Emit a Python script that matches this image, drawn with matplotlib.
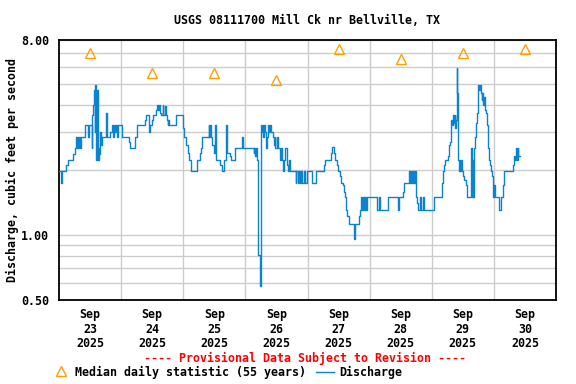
import matplotlib
matplotlib.use("Agg")
import matplotlib.pyplot as plt
from matplotlib.lines import Line2D

# ---------------- data ----------------
title = "USGS 08111700 Mill Ck nr Bellville, TX"
ylabel = "Discharge, cubic feet per second"
day_labels = ["Sep\n23\n2025", "Sep\n24\n2025", "Sep\n25\n2025", "Sep\n26\n2025",
              "Sep\n27\n2025", "Sep\n28\n2025", "Sep\n29\n2025", "Sep\n30\n2025"]
median_values = [6.95, 5.6, 5.6, 5.2, 7.3, 6.5, 7.0, 7.3]

# discharge: hours since Sep 23 00:00, value (cfs), stepwise
hours = [0.0, 0.7, 1.3, 2.7, 3.4, 5.5, 6.2, 6.6, 6.9, 7.2, 7.5, 7.8, 8.1, 8.5,
         10.2, 11.1, 11.7, 12.6, 12.9, 13.2, 13.5, 13.8, 14.1, 14.4, 14.7, 15.0,
         15.3, 15.6, 15.9, 16.2, 16.5, 18.1, 18.4, 19.7, 20.4, 20.9, 21.2, 21.6,
         22.0, 22.5, 22.8, 24.3, 26.9, 27.3, 29.4, 30.3, 33.3, 33.7, 34.6, 34.9,
         35.2, 36.0, 36.5, 37.5, 37.9, 38.4, 38.7, 39.0, 39.4, 40.0, 40.3, 41.0,
         41.3, 41.7, 42.0, 42.3, 42.6, 45.3, 47.9, 48.4, 49.0, 49.7, 50.3, 51.0,
         53.3, 54.6, 55.0, 55.2, 57.8, 58.1, 58.4, 58.7, 59.1, 59.7, 60.4, 60.8,
         62.3, 63.0, 63.9, 64.6, 64.9, 65.9, 66.5, 68.1, 70.6, 70.9, 75.2, 75.5,
         75.8, 76.1, 76.4, 76.7, 77.0, 77.5, 78.0, 78.4, 78.7, 79.0, 79.3, 79.7,
         80.0, 80.3, 80.6, 81.2, 81.5, 82.0, 82.6, 83.0, 83.3, 83.6, 84.2, 84.6,
         85.4, 85.8, 86.2, 86.6, 86.9, 87.5, 87.9, 88.2, 88.6, 88.9, 89.4, 91.4,
         91.7, 92.2, 92.6, 93.1, 93.5, 94.0, 94.5, 95.0, 95.9, 97.8, 99.1, 102.3,
         102.6, 104.9, 105.6, 106.1, 106.8, 107.4, 107.7, 108.6, 109.0, 109.7,
         110.1, 110.5, 110.9, 111.4, 112.0, 114.0, 114.3, 115.9, 116.4, 116.8,
         117.1, 117.5, 117.9, 118.3, 118.7, 119.1, 123.0, 123.6, 124.2, 127.1,
         131.0, 131.5, 132.8, 133.4, 135.2, 135.6, 136.0, 136.4, 136.8, 137.2,
         137.5, 137.8, 138.3, 138.7, 139.6, 139.9, 140.6, 140.9, 144.9, 148.1,
         148.3, 148.6, 149.0, 150.3, 150.8, 151.2, 151.6, 151.9, 152.2, 152.5,
         152.8, 153.1, 153.4, 153.6, 153.8, 154.0, 154.2, 154.5, 154.8, 155.1,
         155.4, 155.7, 156.0, 156.6, 157.2, 157.5, 159.1, 159.4, 159.8, 160.1,
         160.4, 160.7, 161.0, 161.3, 161.7, 162.0, 162.3, 162.6, 163.0, 163.3,
         163.6, 163.9, 164.2, 164.5, 164.9, 165.3, 165.6, 165.9, 166.2, 166.5,
         166.8, 167.1, 167.5, 167.8, 168.1, 168.4, 170.1, 170.7, 171.4, 172.0,
         175.2, 175.6, 175.9, 176.2, 176.5, 176.9, 177.2, 177.5, 178.2]
cfs = [1.97, 1.74, 1.97, 2.11, 2.22, 2.37, 2.52, 2.85, 2.52, 2.85, 2.52, 2.85, 2.52, 2.85,
       3.23, 2.85, 3.23, 2.52, 3.60, 4.00, 4.69, 3.00, 4.95, 2.22, 4.69, 2.22,
       2.52, 2.37, 3.00, 2.61, 2.85, 3.67, 2.85, 3.00, 3.23, 2.85, 3.23, 3.00,
       3.23, 2.85, 3.23, 2.85, 2.70, 2.52, 2.85, 3.23, 3.41, 3.60, 3.13, 3.00,
       3.23, 3.41, 3.60, 3.79, 4.00, 3.79, 4.00, 3.67, 3.60, 4.00, 3.60, 3.96,
       3.60, 3.41, 3.23, 3.41, 3.23, 3.60, 3.13, 2.85, 2.61, 2.39, 2.22, 1.97,
       2.22, 2.39, 2.52, 2.85, 3.23, 2.85, 3.23, 2.85, 2.61, 2.39, 3.23, 2.22,
       2.11, 1.97, 2.22, 3.23, 2.39, 2.32, 2.22, 2.52, 2.85, 2.52, 2.39, 2.52,
       2.32, 2.52, 2.22, 1.74, 0.81, 0.58, 3.23, 3.00, 3.23, 2.85, 3.23, 3.00,
       2.52, 2.85, 3.23, 3.00, 3.23, 3.00, 2.85, 2.61, 2.85, 2.52, 2.85, 2.52,
       2.22, 2.52, 2.22, 1.97, 2.22, 2.52, 2.22, 2.11, 1.97, 2.22, 1.97, 1.74,
       1.97, 1.74, 1.97, 1.74, 1.97, 1.74, 1.97, 1.74, 1.97, 1.74, 1.97, 2.11,
       2.22, 2.39, 2.55, 2.39, 2.22, 2.11, 1.97, 1.88, 1.74, 1.70,
       1.59, 1.50, 1.31, 1.22, 1.12, 0.96, 1.12, 1.22, 1.31, 1.50,
       1.31, 1.50, 1.31, 1.50, 1.31, 1.50, 1.31, 1.50, 1.31, 1.50,
       1.31, 1.50, 1.59, 1.74, 1.97, 1.74, 1.97, 1.74, 1.97, 1.74,
       1.97, 1.50, 1.41, 1.31, 1.50, 1.31, 1.50, 1.31, 1.50, 1.74,
       1.97, 2.11, 2.22, 2.32, 2.61, 2.70, 3.41, 3.23, 3.60, 3.30,
       3.60, 3.13, 3.41, 5.92, 4.55, 3.50, 2.22, 1.97, 2.22, 1.97,
       2.22, 1.97, 1.88, 1.80, 1.70, 1.50, 2.52, 1.50, 2.22, 1.50,
       2.52, 2.85, 3.30, 3.67, 4.22, 4.95, 4.69, 4.95, 4.55, 4.22,
       4.55, 4.00, 4.36, 3.79, 3.67, 3.23, 3.00, 2.52, 2.22, 2.11,
       1.97, 1.88, 1.74, 1.50, 1.70, 1.50, 1.31, 1.50, 1.70, 1.97,
       2.11, 2.22, 2.32, 2.22, 2.52, 2.22, 2.52, 2.32, 2.32]

# ---------------- figure ----------------
W, H = 576, 384
FONT = "DejaVu Sans Mono"
FS = 8.4
LINE_C = "#0a84d0"
fig = plt.figure(figsize=(W / 100, H / 100), dpi=100)
fig.patch.set_facecolor("white")
L, R, T, B = 59, 556, 40, 300
ax = fig.add_axes([L / W, 1 - B / H, (R - L) / W, (B - T) / H])

ax.plot(hours, cfs, drawstyle="steps-post", color=LINE_C, lw=1.0, zorder=3)
median_hours = [24 * i + 12 for i in range(len(median_values))]
ax.plot(median_hours, median_values, linestyle="none", marker="^", markersize=7,
        markerfacecolor="none", markeredgecolor="#ffa000", markeredgewidth=1.0,
        zorder=4, clip_on=False)

ax.set_yscale("log")
ax.set_ylim(0.5, 8.0)
ax.set_xlim(0, 24 * len(day_labels))

ax.set_yticks([0.5, 1.0, 8.0])
ax.set_yticklabels(["0.50", "1.00", "8.00"])
ax.set_yticks([0.6, 0.7, 0.8, 0.9, 2, 3, 4, 5, 6, 7], minor=True)
ax.yaxis.set_minor_formatter(matplotlib.ticker.NullFormatter())

ax.set_xticks([24 * i + 12 for i in range(len(day_labels))])
ax.set_xticklabels(day_labels, linespacing=1.12)
ax.set_xticks([24 * i for i in range(1, len(day_labels))], minor=True)

ax.grid(True, which="both", color="#cccccc", lw=1.0, zorder=0)
ax.xaxis.grid(False, which="major")
ax.set_axisbelow(True)
ax.tick_params(which="both", length=0)
ax.tick_params(axis="y", pad=7)
ax.tick_params(axis="x", pad=6)
for lab in ax.get_xticklabels() + ax.get_yticklabels():
    lab.set_fontfamily(FONT)
    lab.set_fontweight("bold")
    lab.set_fontsize(FS)
for s in ax.spines.values():
    s.set_color("black")
    s.set_linewidth(1.3)

def fx(px):
    return px / W

def fy(py):
    return 1 - py / H

fig.text(fx(307.5), fy(20), title, ha="center", va="center",
         family=FONT, weight="bold", fontsize=FS)
fig.text(fx(12), fy(170), ylabel, ha="center", va="center", rotation=90,
         family=FONT, weight="bold", fontsize=FS)
fig.text(fx(305), fy(358), "---- Provisional Data Subject to Revision ----",
         ha="center", va="center", family=FONT, weight="bold", fontsize=FS,
         color="#ff0000")

fig.add_artist(Line2D([fx(61)], [fy(371)], marker="^", markersize=7,
                      markerfacecolor="none", markeredgecolor="#ffa000",
                      markeredgewidth=1.0, linestyle="none"))
fig.text(fx(75), fy(372), "Median daily statistic (55 years)", ha="left",
         va="center", family=FONT, weight="bold", fontsize=FS)
fig.add_artist(Line2D([fx(316), fx(334)], [fy(372), fy(372)], color=LINE_C,
                      lw=1.0))
fig.text(fx(339), fy(372), "Discharge", ha="left", va="center",
         family=FONT, weight="bold", fontsize=FS)

fig.savefig("out.png", dpi=100, facecolor="white")
